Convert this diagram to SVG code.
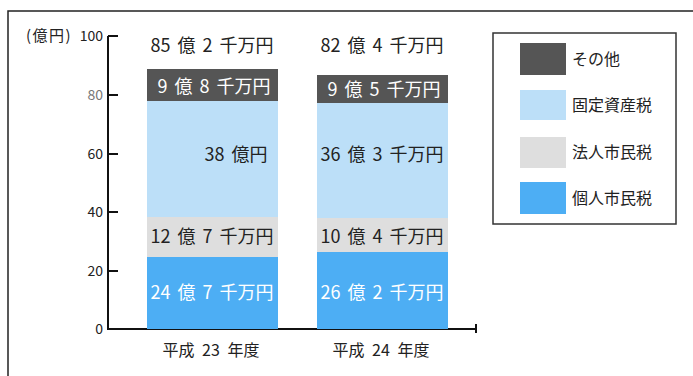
<svg xmlns="http://www.w3.org/2000/svg" width="693" height="376" viewBox="0 0 693 376">
<style>
text{font-family:"Noto Sans CJK JP","Noto Sans",sans-serif;}
.v{font-size:18px;fill:#222;text-anchor:middle;word-spacing:3px;}
.w{font-size:18px;fill:#fff;text-anchor:middle;word-spacing:3px;}
.ax{font-size:14px;fill:#222;text-anchor:end;}
.xl{font-size:16px;fill:#222;text-anchor:middle;word-spacing:4px;}
.lg{font-size:16px;fill:#222;}
.other{fill:#555555;}
.fixed{fill:#BCDFF8;}
.corp{fill:#DEDEDE;}
.indiv{fill:#4DAEF4;}
.line{stroke:#111;stroke-width:2;fill:none;}
</style>
<rect width="693" height="376" fill="#fff"/>
<path d="M8,376 V11 H693" stroke="#222" stroke-width="1.5" fill="none"/>
<g id="axes">
<path class="line" d="M108,36 V329 H476"/>
<path class="line" d="M108,36 H118 M108,95 H118 M108,154 H118 M108,212 H118 M108,271 H118 M476,324 V333"/>
<text x="26" y="41" style="font-size:15px;fill:#222;letter-spacing:1.5px">(億円)</text>
<text class="ax" x="103" y="41">100</text>
<text class="ax" x="103" y="100" style="fill:#777">80</text>
<text class="ax" x="103" y="159">60</text>
<text class="ax" x="103" y="217">40</text>
<text class="ax" x="103" y="276">20</text>
<text class="ax" x="103" y="334">0</text>
</g>
<g id="bar-h23">
<rect class="indiv" x="147" y="257" width="131" height="72"/>
<rect class="corp" x="147" y="217" width="131" height="40"/>
<rect class="fixed" x="147" y="101" width="131" height="116"/>
<rect class="other" x="147" y="69" width="131" height="32"/>
<text class="v" x="212" y="52">85 億 2 千万円</text>
<text class="w" x="214" y="93">9 億 8 千万円</text>
<text class="v" x="236" y="161">38 億円</text>
<text class="v" x="212" y="243">12 億 7 千万円</text>
<text class="w" x="212" y="299">24 億 7 千万円</text>
<text class="xl" x="211" y="356">平成 23 年度</text>
</g>
<g id="bar-h24">
<rect class="indiv" x="317" y="252" width="131" height="77"/>
<rect class="corp" x="317" y="218" width="131" height="34"/>
<rect class="fixed" x="317" y="103" width="131" height="115"/>
<rect class="other" x="317" y="75" width="131" height="28"/>
<text class="v" x="382" y="52">82 億 4 千万円</text>
<text class="w" x="384" y="96">9 億 5 千万円</text>
<text class="v" x="382" y="161">36 億 3 千万円</text>
<text class="v" x="382" y="243">10 億 4 千万円</text>
<text class="w" x="382" y="299">26 億 2 千万円</text>
<text class="xl" x="381" y="356">平成 24 年度</text>
</g>
<g id="legend">
<rect x="493" y="33" width="183" height="191" fill="#fff" stroke="#333" stroke-width="1.5"/>
<rect class="other" x="520" y="43" width="46" height="32"/>
<rect class="fixed" x="520" y="90" width="46" height="30"/>
<rect class="corp" x="520" y="137" width="46" height="31"/>
<rect class="indiv" x="520" y="182" width="46" height="32"/>
<text class="lg" x="572" y="65">その他</text>
<text class="lg" x="572" y="111">固定資産税</text>
<text class="lg" x="572" y="158">法人市民税</text>
<text class="lg" x="572" y="204">個人市民税</text>
</g>
</svg>
